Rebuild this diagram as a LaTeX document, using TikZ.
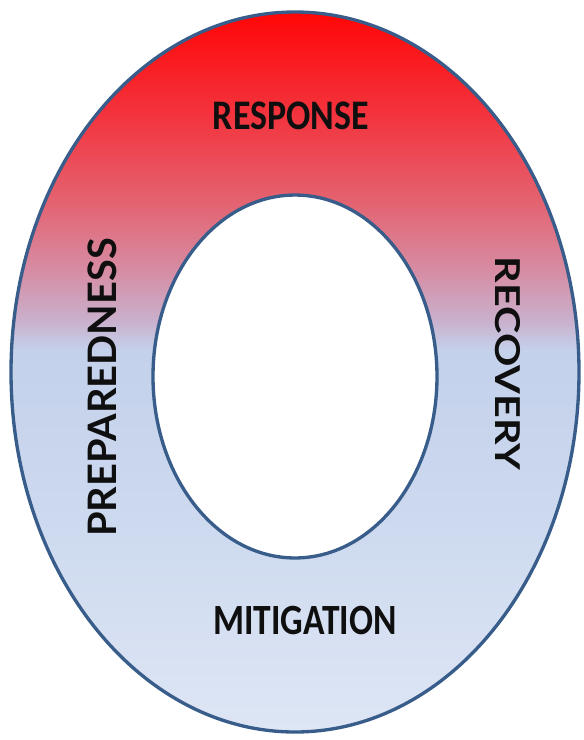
\documentclass[tikz,border=0pt]{standalone}
\usepackage{fontspec}
\setmainfont{Carlito}
\newfontfamily\sidefont{Lato}
\usepackage{graphicx}

% colours of the ring
\definecolor{ringline}{RGB}{56,93,138}
\definecolor{gA}{RGB}{255,6,6}
\definecolor{gB}{RGB}{243,52,62}
\definecolor{gC}{RGB}{228,98,112}
\definecolor{gD}{RGB}{214,140,163}
\definecolor{gE}{RGB}{202,176,204}
\definecolor{gF}{RGB}{196,209,235}
\definecolor{gG}{RGB}{203,216,238}
\definecolor{gH}{RGB}{222,230,245}
\definecolor{inktext}{RGB}{15,15,15}

% red at the top fading into pale blue at the bottom (path spans 25bp..75bp)
\pgfdeclareverticalshading{ringshade}{100bp}{%
  color(0bp)=(gH); color(25bp)=(gH); color(41bp)=(gG); color(51.5bp)=(gF);
  color(53.6bp)=(gE); color(57.1bp)=(gD); color(61.9bp)=(gC);
  color(67.8bp)=(gB); color(75bp)=(gA); color(100bp)=(gA)}

\begin{document}
\begin{tikzpicture}[x=0.75pt,y=-0.75pt,
  ringedge/.style={draw=ringline,line width=2.5pt},
  phase/.style={inner sep=0pt,text=inktext}]
\useasboundingbox (0,0) rectangle (583,740);

% ring body
\coordinate (oc) at (295,372);
\coordinate (ic) at (295,376.5);
\shade[shading=ringshade] (oc) ellipse [x radius=213pt, y radius=270pt];
\draw[ringedge,fill=white] (ic) ellipse [x radius=106.5pt, y radius=136.1pt];
\draw[ringedge] (oc) ellipse [x radius=213pt, y radius=270pt];

% phase labels
\node[phase] (response) at (291,115.5) {\resizebox{117pt}{20.7pt}{\bfseries RESPONSE}};
\node[phase] (mitigation) at (305,621) {\resizebox{137.5pt}{21.2pt}{\bfseries MITIGATION}};
\node[phase,rotate=90] (preparedness) at (102.5,387.5)
  {\resizebox{224pt}{21.5pt}{\sidefont\bfseries PREPAREDNESS}};
\node[phase,rotate=-90] (recovery) at (507.5,363.5)
  {\resizebox{160pt}{18.8pt}{\sidefont\bfseries RECOVERY}};
\end{tikzpicture}
\end{document}
